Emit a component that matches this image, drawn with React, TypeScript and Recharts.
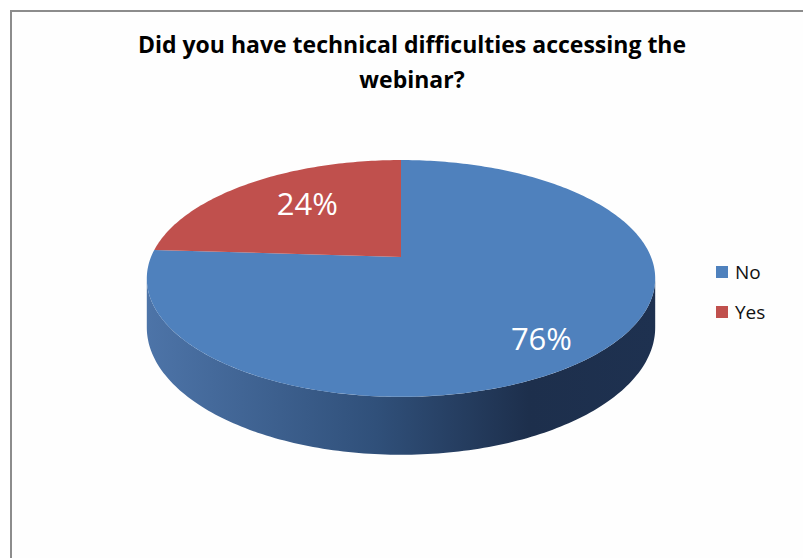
import React from "react";
import { PieChart, Pie, Cell, Legend } from "recharts";

const categories = ["No", "Yes"];
const values = [76, 24];
const colors = ["#4f81bd", "#c0504d"];
const sideStops = [
  ["#4d74a8", "#30507a", "#1d2f4c", "#1e3150"],
  ["#b04946", "#8a3735", "#5e2524", "#602625"],
];

const data = categories.map((name, i) => ({ name, value: values[i] }));

// fake 3D: perspective tilt, vertical squash and slab depth
const TILT = 0.181;
const FLAT = 0.458;
const DEPTH = 47.5;
const RAD = Math.PI / 180;
const FONT = "'Open Sans', 'Noto Sans', sans-serif";

const project = (cx: number, cy: number, r: number, angle: number, f = 1) => {
  const u = Math.cos(angle * RAD) * f;
  const v = Math.sin(angle * RAD) * f;
  const s = 1 / (1 + TILT * v);
  return { x: cx + r * u * s, y: cy - r * FLAT * v * s, s };
};

const arc = (cx: number, cy: number, r: number, a0: number, a1: number, drop = false) => {
  const n = Math.max(2, Math.ceil(Math.abs(a1 - a0)));
  const pts: string[] = [];
  for (let i = 0; i <= n; i++) {
    const p = project(cx, cy, r, a0 + ((a1 - a0) * i) / n);
    const y = drop ? p.y + DEPTH * p.s : p.y;
    pts.push(`${p.x.toFixed(2)},${y.toFixed(2)}`);
  }
  return pts;
};

const renderSlice = (props: any) => {
  const { cx, cy, outerRadius, startAngle, endAngle, percent, index } = props;
  const r = outerRadius;
  const top = [`${cx},${cy}`, ...arc(cx, cy, r, startAngle, endAngle)];

  // visible (front) part of the rim
  const edge = Math.asin(TILT) / RAD;
  const lo = Math.min(startAngle, endAngle);
  const hi = Math.max(startAngle, endAngle);
  const sides: string[] = [];
  [-360, 0, 360].forEach((shift) => {
    const a = Math.max(lo, -180 + edge + shift);
    const b = Math.min(hi, -edge + shift);
    if (a < b) {
      const upper = arc(cx, cy, r, a, b);
      const lower = arc(cx, cy, r, b, a, true);
      sides.push([...upper, ...lower].join(" "));
    }
  });

  const mid = (startAngle + endAngle) / 2;
  const f = 0.52 + 0.29 * percent;
  const lp = project(cx, cy, r, mid, f);
  const ly = cy + (lp.y - cy) * 1.18;
  const gid = `side-${index}`;
  const st = sideStops[index % sideStops.length];

  return (
    <g>
      <defs>
        <linearGradient id={gid} gradientUnits="userSpaceOnUse" x1={cx - r * 1.02} x2={cx + r * 1.02} y1={0} y2={0}>
          <stop offset="0%" stopColor={st[0]} />
          <stop offset="45%" stopColor={st[1]} />
          <stop offset="75%" stopColor={st[2]} />
          <stop offset="100%" stopColor={st[3]} />
        </linearGradient>
      </defs>
      {sides.map((pts, k) => (
        <polygon key={k} points={pts} fill={`url(#${gid})`} />
      ))}
      <polygon points={top.join(" ")} fill={colors[index % colors.length]} />
      <text
        x={lp.x}
        y={ly}
        fill="#ffffff"
        textAnchor="middle"
        dominantBaseline="central"
        fontFamily={FONT}
        fontSize={31}
      >
        {`${Math.round(percent * 100)}%`}
      </text>
    </g>
  );
};

const renderLegend = (props: any) => {
  const { payload } = props;
  return (
    <div style={{ fontFamily: FONT }}>
      {(payload || []).map((entry: any) => (
        <div key={entry.value} style={{ display: "flex", alignItems: "center", height: 40 }}>
          <span style={{ width: 12, height: 12, background: entry.color, marginRight: 7 }} />
          <span style={{ fontSize: 19, color: "#111" }}>{entry.value}</span>
        </div>
      ))}
    </div>
  );
};

export default function App() {
  return (
    <div style={{ position: "absolute", left: 0, top: 0, width: 803, height: 558, background: "#fff", overflow: "hidden" }}>
      <div
        style={{
          position: "absolute",
          left: 10,
          top: 10,
          width: 800,
          height: 560,
          borderTop: "2px solid #8c8c8c",
          borderLeft: "2px solid #8c8c8c",
          background: "#fefefe",
        }}
      />
      <div
        style={{
          position: "absolute",
          left: 62,
          top: 27,
          width: 700,
          textAlign: "center",
          fontFamily: FONT,
          fontWeight: 700,
          fontSize: 23,
          lineHeight: "35px",
          color: "#000",
        }}
      >
        Did you have technical difficulties accessing the
        <br />
        webinar?
      </div>
      <div style={{ position: "absolute", left: 0, top: 0 }}>
        <PieChart width={803} height={558} margin={{ top: 0, right: 0, bottom: 0, left: 0 }}>
          <Pie
            data={data}
            dataKey="value"
            nameKey="name"
            cx={401}
            cy={257}
            outerRadius={250}
            startAngle={90}
            endAngle={-270}
            fillOpacity={0}
            stroke="none"
            label={renderSlice}
            labelLine={false}
            isAnimationActive={false}
          >
            {data.map((d, i) => (
              <Cell key={d.name} fill={colors[i]} />
            ))}
          </Pie>
          <Legend
            layout="vertical"
            verticalAlign="top"
            align="right"
            wrapperStyle={{ left: 716, top: 252, width: 80 }}
            content={renderLegend}
          />
        </PieChart>
      </div>
    </div>
  );
}
